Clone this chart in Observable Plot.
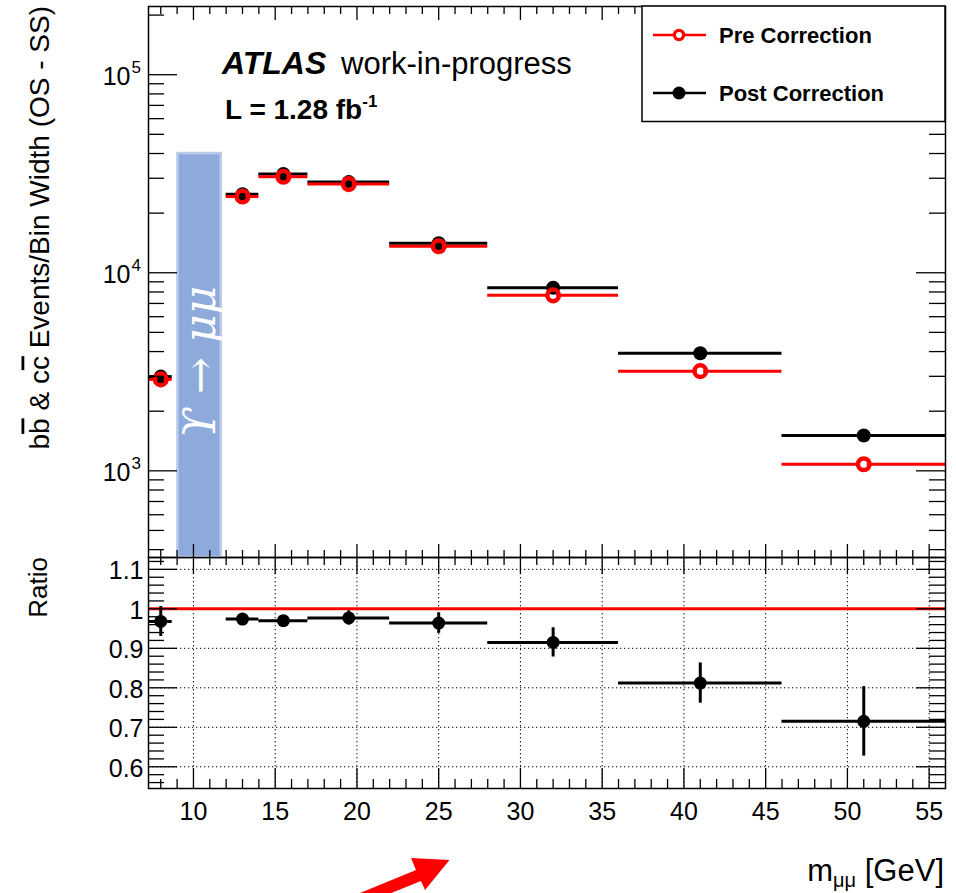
<!DOCTYPE html>
<html>
<head>
<meta charset="utf-8">
<script src="https://cdn.jsdelivr.net/npm/d3@7"></script>
<script src="https://cdn.jsdelivr.net/npm/@observablehq/plot@0.6"></script>
<style>
  body { margin: 0; background: #fff; }
  #chart { position: relative; width: 956px; height: 893px; overflow: hidden; background: #fff;
           font-family: "Liberation Sans", Arial, Helvetica, sans-serif; }
  #chart > svg { position: absolute; left: 0; }
</style>
</head>
<body>
<div id="chart"></div>
<script>
// ---------------- data ----------------
const binCenter      = [8, 13, 15.5, 19.5, 25, 32, 41, 51];
const binLow         = [7.3, 12, 14, 17, 22, 28, 36, 46];
const binHigh        = [8.7, 14, 17, 22, 28, 36, 46, 56];
const preCorrection  = [2895, 24250, 30550, 28040, 13600, 7690, 3185, 1080];
const postCorrection = [2990, 24900, 31500, 28700, 14100, 8400, 3925, 1507];
const ratioValues    = [0.968, 0.974, 0.970, 0.977, 0.964, 0.915, 0.812, 0.715];
const ratioErrors    = [0.038, 0.012, 0.012, 0.018, 0.026, 0.037, 0.051, 0.088];
const upsilonBand    = [9.05, 11.7];
const upsilonTop     = 40000;
const xTicks         = [10, 15, 20, 25, 30, 35, 40, 45, 50, 55];
const logTicks       = [1e3, 1e4, 1e5];
const ratioTicks     = [0.6, 0.7, 0.8, 0.9, 1, 1.1];
const ratioReference = [1];
const seriesNames    = ["Pre Correction", "Post Correction"];
const seriesColors   = ["#ff0000", "#000000"];

// ---------------- layout ----------------
const FONT = '"Liberation Sans", Arial, Helvetica, sans-serif';
const W = 956, H = 893;
const L = 148, R = 945;
const xDomain = [7.25, 56];
const yDomainUpper = [365, 221000];
const yDomainRatio = [0.545, 1.13];
const innerW = R - L;

const rows = binCenter.map((x, i) => ({
  x, lo: binLow[i], hi: binHigh[i],
  pre: preCorrection[i], post: postCorrection[i],
  ratio: ratioValues[i], err: ratioErrors[i]
}));

const xMinor = d3.range(8, 56).filter(v => v % 5 !== 0);
const logMinor = [];
for (let e = 2; e <= 5; e++) for (let m = 2; m <= 9; m++) {
  const v = m * Math.pow(10, e);
  if (v >= yDomainUpper[0] && v <= yDomainUpper[1]) logMinor.push(v);
}
const ratioMinor = d3.range(28, 57).filter(i => (i * 2) % 10 !== 0).map(i => +(i * 0.02).toFixed(2));

const svgStyle = { background: "transparent", overflow: "visible", fontFamily: FONT, fontSize: "25px", color: "#000" };
const tk = { stroke: "#000", strokeWidth: 1.3 };

// ---------------- upper panel ----------------
const UT = 6, UB = 557, upperH = 560;
const innerUH = UB - UT;
const upper = Plot.plot({
  width: W, height: upperH,
  marginLeft: L, marginRight: W - R, marginTop: UT, marginBottom: upperH - UB,
  style: svgStyle,
  x: { domain: xDomain, axis: null },
  y: { type: "log", domain: yDomainUpper },
  marks: [
    Plot.rect([upsilonBand], { x1: d => d[0], x2: d => d[1], y1: () => yDomainUpper[0], y2: () => upsilonTop,
      fill: "#8eaadb", stroke: "#b9cbe8", strokeWidth: 2.5 }),
    // post correction (black)
    Plot.ruleY(rows, { y: "post", x1: "lo", x2: "hi", stroke: seriesColors[1], strokeWidth: 3, clip: true }),
    Plot.dot(rows, { x: "x", y: "post", r: 7, fill: seriesColors[1], stroke: "none" }),
    // pre correction (red, open)
    Plot.ruleY(rows, { y: "pre", x1: "lo", x2: "x", insetRight: 3.5, stroke: seriesColors[0], strokeWidth: 3, clip: true }),
    Plot.ruleY(rows, { y: "pre", x1: "x", x2: "hi", insetLeft: 3.5, stroke: seriesColors[0], strokeWidth: 3, clip: true }),
    Plot.dot(rows, { x: "x", y: "pre", r: 5.8, fill: "none", stroke: seriesColors[0], strokeWidth: 4.5 }),
    // ticks (inside, ROOT style)
    Plot.ruleX(xMinor, { x: d => d, insetTop: innerUH - 7, ...tk }),
    Plot.ruleX(xTicks, { x: d => d, insetTop: innerUH - 13, ...tk }),
    Plot.ruleX(xMinor, { x: d => d, insetBottom: innerUH - 8, ...tk }),
    Plot.ruleX(xTicks, { x: d => d, insetBottom: innerUH - 14, ...tk }),
    Plot.ruleY(logMinor, { y: d => d, insetRight: innerW - 16, ...tk }),
    Plot.ruleY(logTicks, { y: d => d, insetRight: innerW - 29, ...tk }),
    Plot.ruleY(logMinor, { y: d => d, insetLeft: innerW - 16, ...tk }),
    Plot.ruleY(logTicks, { y: d => d, insetLeft: innerW - 29, ...tk }),
    Plot.frame({ stroke: "#000", strokeWidth: 1.5 }),
    Plot.axisY({ ticks: logTicks, tickSize: 0, tickPadding: 18, tickFormat: () => "10", fontSize: 25, label: null, dy: 2 }),
    Plot.text(logTicks, { y: d => d, text: d => String(Math.round(Math.log10(d))), frameAnchor: "left",
      dx: -17, dy: -7, textAnchor: "start", fontSize: 17, fill: "#000" })
  ]
});
upper.style.top = "0px";

// ---------------- ratio panel ----------------
const lowerTop = 540, lowerH = H - lowerTop;
const LT = 557 - lowerTop, LB = 788 - lowerTop;
const innerLH = LB - LT;
const dotted = { stroke: "#000", strokeWidth: 1, strokeDasharray: "1.3,2.7" };
const lower = Plot.plot({
  width: W, height: lowerH,
  marginLeft: L, marginRight: W - R, marginTop: LT, marginBottom: lowerH - LB,
  style: svgStyle,
  x: { domain: xDomain },
  y: { domain: yDomainRatio },
  marks: [
    Plot.ruleX(xTicks, { x: d => d, ...dotted }),
    Plot.ruleY(ratioTicks, { y: d => d, ...dotted }),
    Plot.ruleY(ratioReference, { y: d => d, stroke: "#ff0000", strokeWidth: 3 }),
    Plot.ruleY(rows, { y: "ratio", x1: "lo", x2: "hi", stroke: "#000", strokeWidth: 3, clip: true }),
    Plot.ruleX(rows, { x: "x", y1: d => d.ratio - d.err, y2: d => d.ratio + d.err, stroke: "#000", strokeWidth: 3 }),
    Plot.dot(rows, { x: "x", y: "ratio", r: 6.5, fill: "#000", stroke: "none" }),
    Plot.ruleX(xMinor, { x: d => d, insetTop: innerLH - 9, ...tk }),
    Plot.ruleX(xTicks, { x: d => d, insetTop: innerLH - 20, ...tk }),
    Plot.ruleX(xMinor, { x: d => d, insetBottom: innerLH - 8, ...tk }),
    Plot.ruleX(xTicks, { x: d => d, insetBottom: innerLH - 17, ...tk }),
    Plot.ruleY(ratioMinor, { y: d => d, insetRight: innerW - 16, ...tk }),
    Plot.ruleY(ratioTicks, { y: d => d, insetRight: innerW - 29, ...tk }),
    Plot.ruleY(ratioMinor, { y: d => d, insetLeft: innerW - 16, ...tk }),
    Plot.ruleY(ratioTicks, { y: d => d, insetLeft: innerW - 29, ...tk }),
    Plot.frame({ stroke: "#000", strokeWidth: 1.5 }),
    Plot.axisX({ ticks: xTicks, tickSize: 0, tickPadding: 14, fontSize: 25, label: null }),
    Plot.axisY({ ticks: ratioTicks, tickSize: 0, tickPadding: 5, tickFormat: d => String(d), fontSize: 25, label: null, dy: 2 })
  ]
});
lower.style.top = lowerTop + "px";

const chart = document.getElementById("chart");
chart.appendChild(lower);
chart.appendChild(upper);

// ---------------- annotations overlay ----------------
const ov = d3.create("svg").attr("width", W).attr("height", H)
  .style("top", "0px").style("pointer-events", "none")
  .attr("font-family", FONT);

// y title of upper panel
const yt = ov.append("text").attr("transform", "translate(48.5,6) rotate(-90)")
  .attr("text-anchor", "end").attr("font-size", 28).attr("fill", "#000");
yt.append("tspan").text("b");
yt.append("tspan").style("text-decoration", "overline").text("b");
yt.append("tspan").text(" & c");
yt.append("tspan").style("text-decoration", "overline").text("c");
yt.append("tspan").text(" Events/Bin Width (OS - SS)");

// y title of ratio panel
ov.append("text").attr("transform", "translate(46.5,557) rotate(-90)")
  .attr("text-anchor", "end").attr("font-size", 26).attr("fill", "#000").text("Ratio");

// ATLAS label
const at = ov.append("text").attr("x", 222).attr("y", 74).attr("font-size", 31).attr("fill", "#000");
at.append("tspan").attr("font-weight", "bold").attr("font-style", "italic").attr("font-size", 32).text("ATLAS");
at.append("tspan").attr("x", 341).text("work-in-progress");

const lum = ov.append("text").attr("x", 225).attr("y", 118.5).attr("font-size", 28)
  .attr("font-weight", "bold").attr("fill", "#000");
lum.append("tspan").text("L = 1.28 fb");
lum.append("tspan").attr("font-size", 17).attr("dy", -11.5).text("-1");

// x title
const xt = ov.append("text").attr("x", 944).attr("y", 881).attr("text-anchor", "end")
  .attr("font-size", 31).attr("fill", "#000");
xt.append("tspan").text("m");
xt.append("tspan").attr("font-size", 20).attr("dy", 6).text("μμ");
xt.append("tspan").attr("dy", -6).text(" [GeV]");

// Upsilon label
ov.append("text").attr("transform", "translate(199,362) rotate(-90)")
  .attr("text-anchor", "middle").attr("dominant-baseline", "central")
  .attr("font-family", '"DejaVu Serif", serif').attr("font-style", "italic")
  .attr("font-size", 44).attr("fill", "#fff").text("ϒ → μμ");

// legend
ov.append("rect").attr("x", 642).attr("y", 6).attr("width", R - 642).attr("height", 115.5)
  .attr("fill", "#fff").attr("stroke", "#000").attr("stroke-width", 1.5);
const legY = [35, 93];
seriesNames.forEach((name, i) => {
  const g = ov.append("g").attr("transform", `translate(0,${legY[i]})`);
  const c = seriesColors[i];
  if (i === 0) {
    g.append("line").attr("x1", 653).attr("x2", 674.5).attr("stroke", c).attr("stroke-width", 2.5);
    g.append("line").attr("x1", 683.5).attr("x2", 706).attr("stroke", c).attr("stroke-width", 2.5);
    g.append("circle").attr("cx", 679).attr("r", 4.6).attr("fill", "none").attr("stroke", c).attr("stroke-width", 3.2);
  } else {
    g.append("line").attr("x1", 653).attr("x2", 706).attr("stroke", c).attr("stroke-width", 2.5);
    g.append("circle").attr("cx", 679).attr("r", 6.5).attr("fill", c);
  }
  g.append("text").attr("x", 719).attr("dy", "0.35em").attr("font-size", 22)
    .attr("font-weight", "bold").attr("fill", "#000").text(name);
});

// red arrow annotation
ov.append("polygon")
  .attr("points", "343,900 416,870 411,858 449.5,860 425,890 421,881 374,900")
  .attr("fill", "#ff0000");

chart.appendChild(ov.node());
</script>
</body>
</html>
